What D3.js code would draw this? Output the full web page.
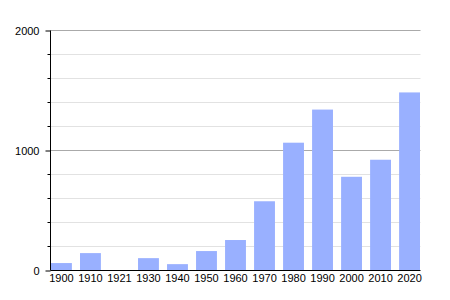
<!DOCTYPE html>
<html>
<head>
<meta charset="utf-8">
<script src="https://cdn.jsdelivr.net/npm/d3@7"></script>
<style>
	body { margin: 0; background: #fff; }
	text { font-family: "Liberation Sans", Arial, sans-serif; font-size: 11px; fill: #000; }
</style>
</head>
<body>
<svg id="chart" width="450" height="300"></svg>
<script>
var years = ["1900", "1910", "1921", "1930", "1940", "1950", "1960", "1970", "1980", "1990", "2000", "2010", "2020"];
var population = [62, 145, 0, 103, 53, 162, 254, 577, 1065, 1341, 781, 923, 1484];
var majorTicks = [0, 1000, 2000];
var minorTicks = [200, 400, 600, 800, 1200, 1400, 1600, 1800];

var svg = d3.select('#chart');
var plotLeft = 50.5, plotRight = 420.5, plotTop = 30.5, plotBottom = 270.5;

var x = d3.scaleBand()
	.domain(years)
	.range([51, 420])
	.paddingInner(0.28)
	.paddingOuter(0);

var y = d3.scaleLinear()
	.domain([0, 2000])
	.range([plotBottom, plotTop]);

function yPix(d) {
	return Math.round(y(d) - 0.5) + 0.5;
}

// minor gridlines
svg.append('g').selectAll('line')
	.data(minorTicks)
	.join('line')
	.attr('x1', plotLeft).attr('x2', plotRight)
	.attr('y1', yPix).attr('y2', yPix)
	.attr('stroke', "#e2e2e2");

// major gridlines
svg.append('g').selectAll('line')
	.data(majorTicks.slice(1))
	.join('line')
	.attr('x1', plotLeft).attr('x2', plotRight)
	.attr('y1', yPix).attr('y2', yPix)
	.attr('stroke', "#aaaaaa");

// bars
svg.append('g').selectAll('rect')
	.data(population)
	.join('rect')
	.attr('x', function(d, i) { return x(years[i]); })
	.attr('width', x.bandwidth())
	.attr('y', function(d) { return y(d); })
	.attr('height', function(d) { return plotBottom - y(d); })
	.attr('fill', "#99b0ff");

// y axis
var yAxis = svg.append('g').attr('transform', "translate(" + plotLeft + ",0)");
yAxis.call(d3.axisLeft(y).tickValues(majorTicks).tickSize(5).tickSizeOuter(0).tickPadding(6).tickFormat(d3.format('d')));
yAxis.select('.domain').remove();
yAxis.selectAll('.tick line').attr('stroke', "#000");
yAxis.selectAll('text').style('font-size', "11px").attr('fill', "#000");

svg.append('g').selectAll('line')
	.data(minorTicks)
	.join('line')
	.attr('x1', plotLeft - 3).attr('x2', plotLeft)
	.attr('y1', yPix).attr('y2', yPix)
	.attr('stroke', "#000");

svg.append('line')
	.attr('x1', plotLeft).attr('x2', plotLeft)
	.attr('y1', plotTop).attr('y2', plotBottom)
	.attr('stroke', "#000");

// x axis
var xAxis = svg.append('g').attr('transform', "translate(0," + plotBottom + ")");
xAxis.call(d3.axisBottom(x).tickSize(0).tickPadding(4));
xAxis.select('.domain').remove();
xAxis.selectAll('text').style('font-size', "11px").attr('fill', "#000");

svg.append('line')
	.attr('x1', plotLeft).attr('x2', plotRight)
	.attr('y1', plotBottom).attr('y2', plotBottom)
	.attr('stroke', "#000");
</script>
</body>
</html>
